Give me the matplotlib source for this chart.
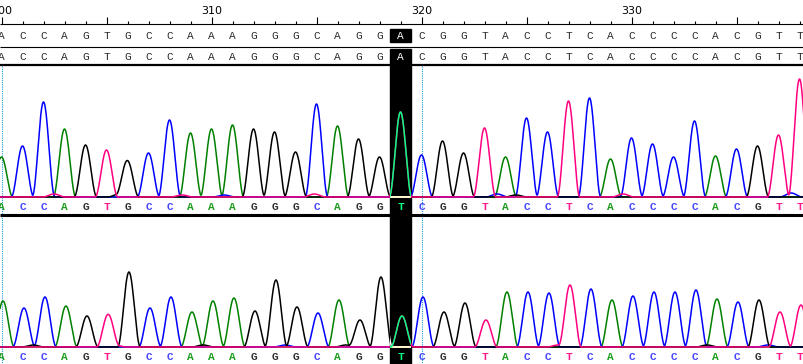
import numpy as np
import matplotlib
matplotlib.use("Agg")
import matplotlib.pyplot as plt
import matplotlib.colors as mcolors
from matplotlib.patches import Rectangle

# bases shown, reference row and the base calls of the two traces
start = 300
reference = "ACCAGTGCCAAAGGGCAGGACGGTACCTCACCCCACGTT"
calls_top = "ACCAGTGCCAAAGGGCAGGTCGGTACCTCACCCCACGTT"
calls_bottom = "ACCAGTGCCAAAGGGCAGGTCGGTACCTCACCCCACGTT"
highlight = 319
cursor = 320

# peak heights (pixels above baseline) for each called base
heights_top = [40, 51, 95, 68, 52, 47, 36, 44, 77, 64,
               68, 72, 68, 65, 45, 93, 71, 58, 40, 85,
               42, 56, 44, 69, 40, 79, 65, 96, 99, 38,
               59, 53, 40, 76, 41, 48, 51, 62, 118]
heights_bottom = [46, 39, 50, 41, 31, 32, 75, 39, 50, 35,
                  46, 49, 36, 67, 40, 34, 47, 27, 70, 31,
                  50, 35, 44, 27, 55, 55, 54, 62, 58, 47,
                  51, 55, 55, 57, 48, 45, 47, 35, 42]

# small background bumps: (base, position, height)
noise_top = [("T", 302.5, 3), ("G", 305.6, 3), ("T", 308.6, 2), ("C", 310.6, 2),
             ("T", 314.9, 3), ("C", 323.6, 3), ("G", 324.5, 2), ("T", 329.6, 3),
             ("C", 337.6, 4)]
noise_bottom = [("G", 301.5, 2), ("T", 305.4, 2), ("G", 309.6, 2), ("C", 313.5, 2),
                ("G", 316.4, 2), ("T", 326.5, 2), ("G", 333.6, 2), ("C", 336.5, 2)]

trace_colors = {"G": "#000000", "A": "#008000", "C": "#0000ff", "T": "#ff0080"}
call_colors = {"G": "#303030", "A": "#1e9e1e", "C": "#4646ff", "T": "#ff1a8c"}
draw_order = ["A", "C", "G", "T"]

px = 21.0  # pixels per base
W, H = 804, 364
x0 = start - 1.5 / px
x1 = start + (W - 1.5) / px

fig = plt.figure(figsize=(W / 100, H / 100), dpi=100)
ax = fig.add_axes([0, 0, 1, 1])
ax.set_xlim(x0, x1)
ax.set_ylim(H, 0)
ax.axis("off")

positions = np.arange(start, start + len(reference))


def peak(x, c, h, w=0.54):
    d = np.clip(np.abs(x - c) / w, 0, 1)
    return h * np.cos(d * np.pi / 2) ** 2


def invert(c):
    r, g, b = mcolors.to_rgb(c)
    return (1 - r, 1 - g, 1 - b)


# highlighted column
for top, hgt in [(29, 13), (49, 14.5), (66, H - 66)]:
    ax.add_patch(Rectangle((highlight - 0.5, top), 1, hgt, color="black", zorder=1))
clip_box = Rectangle((highlight - 0.5, 66), 1, H - 66, transform=ax.transData)

# cursor lines
ax.vlines([start, cursor], 66, H, colors="#1e9bd7", linestyles=(0, (1, 1)), lw=0.8, zorder=0.5)

# ruler
ax.hlines(24, x0, x1, colors="black", lw=0.8)
for n in positions:
    ax.vlines(n, 17 if n % 5 == 0 else 21, 24, colors="black", lw=0.8)
    if n % 10 == 0:
        ax.text(n, 10.5, str(n), ha="center", va="center", fontsize=8, family="DejaVu Sans")

# sequence rows
ax.hlines(47, x0, x1, colors="black", lw=0.8)
ax.hlines(65, x0, x1, colors="black", lw=1.6, zorder=2)
ax.hlines(214.5, x0, x1, colors="black", lw=2.2, zorder=2)
for n, b in zip(positions, reference):
    col = "white" if n == highlight else "#2a2a2a"
    for y in (36, 56.5):
        ax.text(n, y, b, ha="center", va="center", fontsize=8, family="Liberation Mono",
                color=col, zorder=3)

# traces
xs = np.linspace(x0, x1, 3000)
panels = [(197, 207, calls_top, heights_top, noise_top, 0.0),
          (347, 356.5, calls_bottom, heights_bottom, noise_bottom, 0.07)]
for base_y, call_y, calls, heights, noise, shift in panels:
    for ch in draw_order:
        sig = np.zeros_like(xs)
        for n, b, h in zip(positions, calls, heights):
            if b == ch:
                sig += peak(xs, n + shift, h)
        for b, p, h in noise:
            if b == ch:
                sig += peak(xs, p, h)
        ys = base_y - sig
        ax.plot(xs, ys, color=trace_colors[ch], lw=1.1, zorder=2)
        inv, = ax.plot(xs, ys, color=invert(trace_colors[ch]), lw=1.1, zorder=2.5)
        inv.set_clip_path(clip_box)
    for n, b in zip(positions, calls):
        col = invert(trace_colors[b]) if n == highlight else call_colors[b]
        ax.text(n, call_y, b, ha="center", va="center", fontsize=8, family="Liberation Mono",
                weight="bold", color=col, zorder=3)

fig.savefig("out.png", dpi=100)
